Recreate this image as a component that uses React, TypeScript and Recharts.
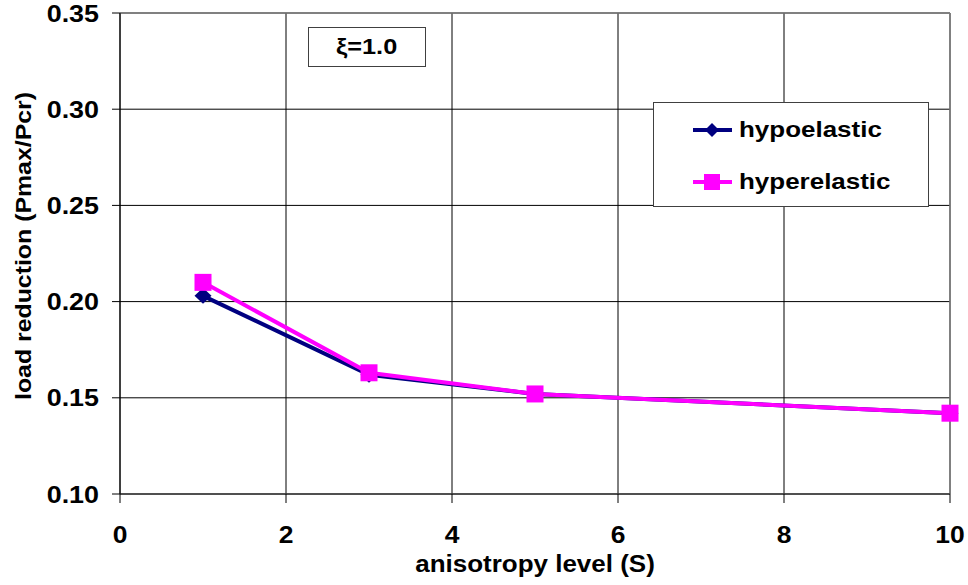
import {
  LineChart,
  Line,
  XAxis,
  YAxis,
  CartesianGrid,
  ReferenceLine,
} from 'recharts';

const anisotropy = [1, 3, 5, 10];
const hypoelastic = [0.203, 0.162, 0.152, 0.142];
const hyperelastic = [0.21, 0.163, 0.152, 0.142];
const xTicks = [0, 2, 4, 6, 8, 10];
const yTicks = [0.1, 0.15, 0.2, 0.25, 0.3, 0.35];

const seriesNames = ['hypoelastic', 'hyperelastic'];
const seriesColors = ['#000080', '#FF00FF'];

const data = anisotropy.map((s, i) => ({
  s,
  hypo: hypoelastic[i],
  hyper: hyperelastic[i],
}));

const font = '"Liberation Sans", Arial, sans-serif';

const Diamond = (props: any) => {
  const { cx, cy, index } = props;
  if (cx == null || cy == null) return <g key={index} />;
  return (
    <polygon
      key={index}
      points={`${cx},${cy - 8} ${cx + 8.5},${cy} ${cx},${cy + 8} ${cx - 8.5},${cy}`}
      fill='#000080'
    />
  );
};

const Square = (props: any) => {
  const { cx, cy, index } = props;
  if (cx == null || cy == null) return <g key={index} />;
  return <rect key={index} x={cx - 8.5} y={cy - 8.5} width={17} height={17} fill='#FF00FF' />;
};

const XTick = ({ x, payload }: any) => (
  <text
    transform={`translate(${x},543) scale(1.15,1)`}
    textAnchor='middle'
    fontFamily={font}
    fontWeight='bold'
    fontSize={23}
    fill='#000'
  >
    {payload.value}
  </text>
);

const YTick = ({ y, payload }: any) => (
  <text
    transform={`translate(99,${y + 8.5}) scale(1.12,1)`}
    textAnchor='end'
    fontFamily={font}
    fontWeight='bold'
    fontSize={24}
    fill='#000'
  >
    {Number(payload.value).toFixed(2)}
  </text>
);

const YTitle = () => (
  <text
    transform='translate(31,246) rotate(-90) scale(1.13,1)'
    textAnchor='middle'
    fontFamily={font}
    fontWeight='bold'
    fontSize={22}
    fill='#000'
  >
    load reduction (Pmax/Pcr)
  </text>
);

const XTitle = () => (
  <text
    transform='translate(535,572) scale(1.13,1)'
    textAnchor='middle'
    fontFamily={font}
    fontWeight='bold'
    fontSize={23}
    fill='#000'
  >
    anisotropy level (S)
  </text>
);

const LegendIcon = ({ idx }: { idx: number }) => (
  <svg width={40} height={20} style={{ display: 'block' }}>
    <line x1={0} y1={10} x2={39} y2={10} stroke={seriesColors[idx]} strokeWidth={4} />
    {idx === 0 ? (
      <polygon points='19,3 26,10 19,17 12,10' fill={seriesColors[idx]} />
    ) : (
      <rect x={11} y={2} width={16} height={16} fill={seriesColors[idx]} />
    )}
  </svg>
);

export default function App() {
  return (
    <div
      style={{
        position: 'absolute',
        left: 0,
        top: 0,
        width: 968,
        height: 585,
        background: '#fff',
      }}
    >
      <LineChart
        width={968}
        height={585}
        data={data}
        margin={{ top: 13, right: 18, left: 40, bottom: 31 }}
      >
        <CartesianGrid stroke='#000' strokeWidth={1} />
        <XAxis
          dataKey='s'
          type='number'
          domain={[0, 10]}
          ticks={xTicks}
          tickSize={9}
          height={60}
          axisLine={{ stroke: '#404040', strokeWidth: 1.5 }}
          tickLine={{ stroke: '#000' }}
          tick={<XTick />}
          label={{ content: () => <XTitle /> }}
        />
        <YAxis
          type='number'
          domain={[0.1, 0.35]}
          ticks={yTicks}
          tickSize={8}
          width={80}
          axisLine={{ stroke: '#000' }}
          tickLine={{ stroke: '#000' }}
          tick={<YTick />}
          label={{ content: () => <YTitle /> }}
        />
        <ReferenceLine y={0.35} stroke='#808080' strokeWidth={1.5} />
        <ReferenceLine x={10} stroke='#808080' strokeWidth={1.5} />
        <Line
          dataKey='hypo'
          name={seriesNames[0]}
          stroke={seriesColors[0]}
          strokeWidth={4}
          dot={Diamond}
          activeDot={false}
          isAnimationActive={false}
        />
        <Line
          dataKey='hyper'
          name={seriesNames[1]}
          stroke={seriesColors[1]}
          strokeWidth={4}
          dot={Square}
          activeDot={false}
          isAnimationActive={false}
        />
      </LineChart>

      <div
        style={{
          position: 'absolute',
          left: 308,
          top: 27,
          width: 116,
          height: 38,
          border: '1px solid #404040',
          background: '#fff',
          display: 'flex',
          alignItems: 'center',
          justifyContent: 'center',
          fontFamily: font,
          fontWeight: 'bold',
          fontSize: 22,
        }}
      >
        <span style={{ display: 'inline-block', transform: 'scaleX(1.15)' }}>ξ=1.0</span>
      </div>

      <div
        style={{
          position: 'absolute',
          left: 653,
          top: 102,
          width: 274,
          height: 103,
          border: '1px solid #404040',
          background: '#fff',
          fontFamily: font,
          fontWeight: 'bold',
          fontSize: 22,
        }}
      >
        {seriesNames.map((name, i) => (
          <div
            key={name}
            style={{
              position: 'absolute',
              left: 39,
              top: i === 0 ? 17 : 69,
              display: 'flex',
              alignItems: 'center',
              height: 20,
            }}
          >
            <LegendIcon idx={i} />
            <span
              style={{
                display: 'inline-block',
                marginLeft: 6,
                transform: 'scaleX(1.18)',
                transformOrigin: 'left center',
                lineHeight: '20px',
              }}
            >
              {name}
            </span>
          </div>
        ))}
      </div>
    </div>
  );
}
